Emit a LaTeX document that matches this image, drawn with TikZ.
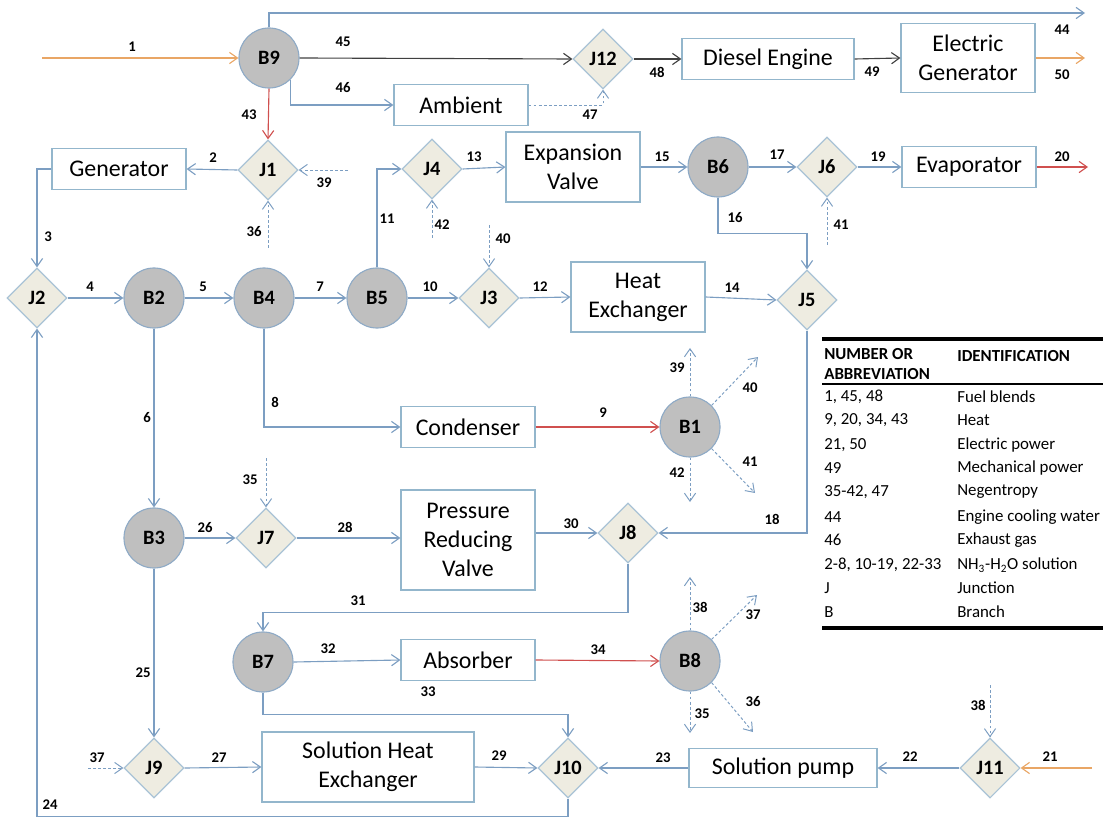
\documentclass[tikz,border=0pt]{standalone}
\usepackage{fontspec}
\setmainfont{Carlito}
\usetikzlibrary{positioning,arrows.meta,shapes.geometric,calc}
\definecolor{flowblue}{HTML}{7C9EC2}
\definecolor{boxline}{HTML}{93B6CC}
\definecolor{brgray}{HTML}{BFBFBF}
\definecolor{brline}{HTML}{8EAAC6}
\definecolor{jnbg}{HTML}{EEECE1}
\definecolor{jnline}{HTML}{A9C3D6}
\definecolor{fuelorg}{HTML}{E9A665}
\definecolor{heatred}{HTML}{D0504F}
\definecolor{mechdark}{HTML}{404040}
\tikzset{
  unit/.style={draw=boxline,fill=white,line width=0.8pt,align=center,inner sep=2pt,
               minimum width=3.35cm,minimum height=1.02cm,font=\fontsize{17}{20.5}\selectfont},
  tallunit/.style={unit,minimum height=1.75cm},
  br/.style={circle,draw=brline,fill=brgray,line width=0.8pt,minimum size=1.5cm,inner sep=0pt,
             font=\fontsize{14.5}{16}\selectfont\bfseries},
  jn/.style={diamond,draw=jnline,fill=jnbg,line width=0.8pt,minimum size=1.5cm,inner sep=0pt,
             font=\fontsize{14.5}{16}\selectfont\bfseries},
  flow/.style={-{Straight Barb[length=2mm,width=2.8mm]},line width=0.8pt,draw=flowblue},
  neg/.style={flow,line width=0.7pt,dash pattern=on 2pt off 1.6pt},
  fuel/.style={flow,draw=fuelorg},
  heat/.style={flow,draw=heatred},
  mech/.style={flow,draw=mechdark},
  lbl/.style={font=\fontsize{10.5}{12}\selectfont\bfseries,inner sep=0pt},
  tab/.style={anchor=west,inner sep=0pt,font=\fontsize{12}{14}\selectfont},
  tabhd/.style={tab,font=\fontsize{12}{14}\selectfont\bfseries,align=left},
}
\begin{document}
\begin{tikzpicture}[x=0.025cm,y=-0.025cm]
\useasboundingbox (0,0) rectangle (1103,819);

% ---- top row: fuel, engine
\node[br] (B9) at (269,58) {B9};
\node[jn] (J12) at (603,59) {J12};
\node[unit,minimum width=4.3cm] (dsl) at (768,59) {Diesel Engine};
\node[unit,minimum height=1.72cm] (egen) at (968,58) {Electric\\Generator};
\node[unit] (amb) at (461,105) {Ambient};
\coordinate (s1) at (42,58);
\coordinate (e44) at (1085,13);
\coordinate (e50) at (1085,58);
\draw[fuel] (s1) -- (B9.west);
\draw[flow] (B9.north) |- (e44);
\draw[mech] (B9.east) -- (J12.west);
\draw[flow] (B9.-45) |- (amb.west);
\draw[neg] (amb.east) -| (J12.south);
\draw[mech] (J12.east) -- (dsl.west);
\draw[mech] (dsl.east) -- (egen.west);
\draw[fuel] (egen.east) -- (e50);
\node[lbl] (n1) at (132,47) {1};
\node[lbl] (n44) at (1062,30) {44};
\node[lbl] (n45) at (343,42) {45};
\node[lbl] (n46) at (343,88) {46};
\node[lbl] (n47) at (590,115) {47};
\node[lbl] (n48) at (657,72) {48};
\node[lbl] (n49) at (872,72) {49};
\node[lbl] (n50) at (1062,75) {50};

% ---- generator and expansion row
\node[jn] (J1) at (268,170) {J1};
\node[unit] (gen) at (119,169) {Generator};
\node[jn] (J4) at (432,169) {J4};
\node[tallunit] (exv) at (573,167) {Expansion\\Valve};
\node[br] (B6) at (718,167) {B6};
\node[jn] (J6) at (827,167) {J6};
\node[unit] (evap) at (969,167) {Evaporator};
\coordinate (s39) at (348,170);
\coordinate (s36) at (268,248);
\coordinate (s42) at (432,238);
\coordinate (s41) at (827,245);
\coordinate (e20) at (1088,167);
\draw[heat] (B9.south) -- (J1.north);
\draw[flow] (J1.west) -- (gen.east);
\draw[neg] (s39) -- (J1.east);
\draw[neg] (s36) -- (J1.south);
\draw[neg] (s42) -- (J4.south);
\draw[flow] (J4.east) -- (exv.west);
\draw[flow] (exv.east) -- (B6.west);
\draw[flow] (B6.east) -- (J6.west);
\draw[flow] (J6.east) -- (evap.west);
\draw[heat] (evap.east) -- (e20);
\draw[neg] (s41) -- (J6.south);
\node[lbl] (n43) at (249,115) {43};
\node[lbl] (n2) at (213,158) {2};
\node[lbl] (n39a) at (324,183) {39};
\node[lbl] (n36a) at (254,232) {36};
\node[lbl] (n3) at (48,237) {3};
\node[lbl] (n11) at (387,219) {11};
\node[lbl] (n42a) at (442,225) {42};
\node[lbl] (n13) at (474,157) {13};
\node[lbl] (n15) at (662,157) {15};
\node[lbl] (n16) at (735,218) {16};
\node[lbl] (n17) at (777,155) {17};
\node[lbl] (n19) at (878,157) {19};
\node[lbl] (n20) at (1062,157) {20};
\node[lbl] (n41a) at (841,225) {41};

% ---- main solution line
\node[jn] (J2) at (37,298) {J2};
\node[br] (B2) at (154,298) {B2};
\node[br] (B4) at (264,298) {B4};
\node[br] (B5) at (377,298) {B5};
\node[jn] (J3) at (489,298) {J3};
\node[tallunit] (hex) at (638,297) {Heat\\Exchanger};
\node[jn] (J5) at (807,300) {J5};
\coordinate (s40) at (489,225);
\draw[flow] (gen.west) -| (J2.north);
\draw[flow] (J2.east) -- (B2.west);
\draw[flow] (B2.east) -- (B4.west);
\draw[flow] (B4.east) -- (B5.west);
\draw[flow] (B5.north) |- (J4.west);
\draw[flow] (B5.east) -- (J3.west);
\draw[neg] (s40) -- (J3.north);
\draw[flow] (J3.east) -- (hex.west);
\draw[flow] (hex.east) -- (J5.west);
\draw[flow] (B6.south) -- ++(0,36) -| (J5.north);
\node[lbl] (n4) at (90,287) {4};
\node[lbl] (n5) at (203,287) {5};
\node[lbl] (n7) at (320,287) {7};
\node[lbl] (n10) at (430,287) {10};
\node[lbl] (n40a) at (503,239) {40};
\node[lbl] (n12) at (540,287) {12};
\node[lbl] (n14) at (732,288) {14};

% ---- condenser
\node[unit] (cond) at (468,427) {Condenser};
\node[br] (B1) at (690,427) {B1};
\coordinate (e39) at (690,348);
\coordinate (e40) at (758,357);
\coordinate (e41) at (755,493);
\coordinate (e42) at (690,502);
\draw[flow] (B4.south) |- (cond.west);
\draw[heat] (cond.east) -- (B1.west);
\draw[neg] (B1.north) -- (e39);
\draw[neg] (B1.45) -- (e40);
\draw[neg] (B1.-45) -- (e41);
\draw[neg] (B1.south) -- (e42);
\node[lbl] (n8) at (275,402) {8};
\node[lbl] (n6) at (147,418) {6};
\node[lbl] (n9) at (603,413) {9};
\node[lbl] (n39) at (677,368) {39};
\node[lbl] (n40) at (750,388) {40};
\node[lbl] (n41) at (750,462) {41};
\node[lbl] (n42) at (677,473) {42};

% ---- pressure reducing valve
\node[br] (B3) at (154,538) {B3};
\node[jn] (J7) at (266,538) {J7};
\node[unit,minimum height=2.5cm] (prv) at (468,540) {Pressure\\Reducing\\Valve};
\node[jn] (J8) at (628,533) {J8};
\coordinate (s35) at (266,458);
\draw[flow] (B2.south) -- (B3.north);
\draw[flow] (B3.east) -- (J7.west);
\draw[neg] (s35) -- (J7.north);
\draw[flow] (J7.east) -- (J7.east -| prv.west);
\draw[flow] (prv.east |- J8.west) -- (J8.west);
\draw[flow] (J5.south) |- (J8.east);
\node[lbl] (n35a) at (250,480) {35};
\node[lbl] (n26) at (205,528) {26};
\node[lbl] (n28) at (345,527) {28};
\node[lbl] (n30) at (571,524) {30};
\node[lbl] (n18) at (772,519) {18};

% ---- absorber
\node[br] (B7) at (263,662) {B7};
\node[unit] (abs) at (468,660) {Absorber};
\node[br] (B8) at (690,661) {B8};
\coordinate (e38) at (690,577);
\coordinate (e37) at (757,595);
\coordinate (e36) at (753,732);
\coordinate (e35) at (690,733);
\draw[flow] (J8.south) -- ++(0,49) -| (B7.north);
\draw[flow] (B7.east) -- (abs.west);
\draw[heat] (abs.east) -- (B8.west);
\draw[neg] (B8.north) -- (e38);
\draw[neg] (B8.45) -- (e37);
\draw[neg] (B8.-45) -- (e36);
\draw[neg] (B8.south) -- (e35);
\node[lbl] (n31) at (358,601) {31};
\node[lbl] (n32) at (328,649) {32};
\node[lbl] (n33) at (428,692) {33};
\node[lbl] (n34) at (598,650) {34};
\node[lbl] (n38) at (700,607) {38};
\node[lbl] (n37) at (753,615) {37};
\node[lbl] (n36) at (753,702) {36};
\node[lbl] (n35) at (702,714) {35};

% ---- bottom row
\node[jn] (J9) at (154,768) {J9};
\node[tallunit,minimum width=5.3cm] (she) at (368,767) {Solution Heat\\Exchanger};
\node[jn] (J10) at (568,768) {J10};
\node[unit,minimum width=4.7cm,minimum height=0.98cm] (pump) at (783,768) {Solution pump};
\node[jn] (J11) at (990,768) {J11};
\coordinate (s37) at (88,768);
\coordinate (s38) at (990,685);
\coordinate (s21) at (1092,768);
\draw[flow] (B3.south) -- (J9.north);
\draw[neg] (s37) -- (J9.west);
\draw[flow] (J9.east) -- (she.west);
\draw[flow] (she.east) -- (J10.west);
\draw[flow] (B7.south) -- ++(0,22) -| (J10.north);
\draw[flow] (pump.west) -- (J10.east);
\draw[flow] (J11.west) -- (pump.east);
\draw[fuel] (s21) -- (J11.east);
\draw[neg] (s38) -- (J11.north);
\draw[flow] (J10.south) -- ++(0,18) -| (J2.south);
\node[lbl] (n25) at (143,673) {25};
\node[lbl] (n37a) at (97,758) {37};
\node[lbl] (n27) at (219,758) {27};
\node[lbl] (n29) at (499,756) {29};
\node[lbl] (n23) at (663,758) {23};
\node[lbl] (n22) at (910,757) {22};
\node[lbl] (n21) at (1050,757) {21};
\node[lbl] (n38a) at (978,705) {38};
\node[lbl] (n24) at (50,805) {24};

% ---- legend table
\draw[line width=2.2pt] (822,339) -- (1103,339);
\draw[line width=1.6pt] (822,384) -- (1103,384);
\draw[line width=2.2pt] (822,628) -- (1103,628);
\node[tabhd] (th1) at (824,364) {NUMBER OR\\ABBREVIATION};
\node[tabhd] (th2) at (957,356) {IDENTIFICATION};
\node[tab] (ta1) at (824,397) {1, 45, 48};
\node[tab] (tb1) at (957,397) {Fuel blends};
\node[tab] (ta2) at (824,420) {9, 20, 34, 43};
\node[tab] (tb2) at (957,420) {Heat};
\node[tab] (ta3) at (824,445) {21, 50};
\node[tab] (tb3) at (957,445) {Electric power};
\node[tab] (ta4) at (824,468) {49};
\node[tab] (tb4) at (957,468) {Mechanical power};
\node[tab] (ta5) at (824,492) {35-42, 47};
\node[tab] (tb5) at (957,492) {Negentropy};
\node[tab] (ta6) at (824,517) {44};
\node[tab] (tb6) at (957,517) {Engine cooling water};
\node[tab] (ta7) at (824,540) {46};
\node[tab] (tb7) at (957,540) {Exhaust gas};
\node[tab] (ta8) at (824,565) {2-8, 10-19, 22-33};
\node[tab] (tb8) at (957,565) {NH\textsubscript{3}-H\textsubscript{2}O solution};
\node[tab] (ta9) at (824,588) {J};
\node[tab] (tb9) at (957,588) {Junction};
\node[tab] (ta10) at (824,612) {B};
\node[tab] (tb10) at (957,612) {Branch};

\end{tikzpicture}
\end{document}
